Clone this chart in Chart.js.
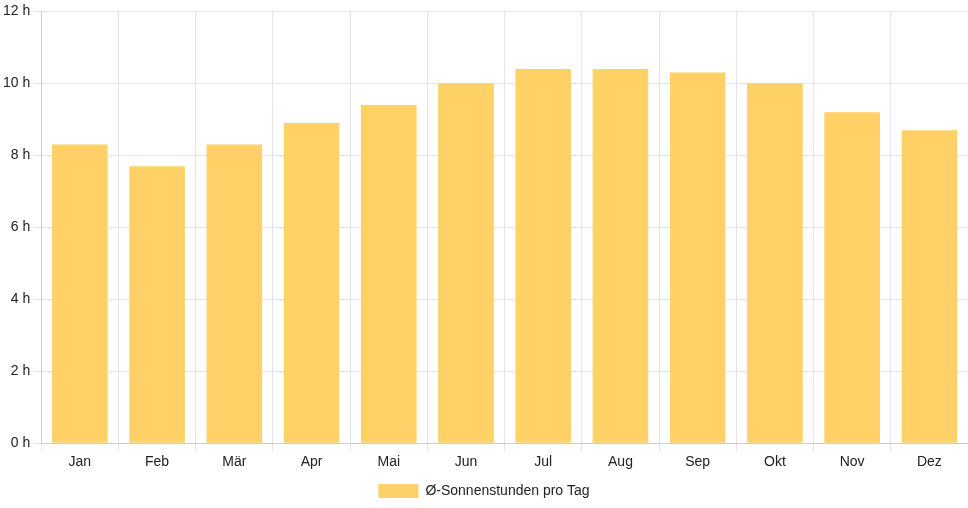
<!DOCTYPE html>
<html>
<head>
<meta charset="utf-8">
<script src="https://cdn.jsdelivr.net/npm/chart.js@4"></script>
<style>
  html, body { margin: 0; padding: 0; background: #fff; }
  #wrap { width: 968px; height: 508px; }
</style>
</head>
<body>
<div id="wrap"><canvas id="sunChart"></canvas></div>
<script>
// Monatsdaten
const months = ['Jan', 'Feb', 'Mär', 'Apr', 'Mai', 'Jun', 'Jul', 'Aug', 'Sep', 'Okt', 'Nov', 'Dez'];
const sunHours = [8.3, 7.7, 8.3, 8.9, 9.4, 10.0, 10.4, 10.4, 10.3, 10.0, 9.2, 8.7];
const seriesLabel = 'Ø-Sonnenstunden pro Tag';

Chart.defaults.font.family = '"Liberation Sans", Arial, sans-serif';
Chart.defaults.font.size = 14;
Chart.defaults.color = '#222';

new Chart(document.getElementById('sunChart'), {
    type: 'bar',
    data: {
        labels: months,
        datasets: [{
            label: seriesLabel,
            data: sunHours,
            backgroundColor: 'rgba(255, 209, 102, 1)',
            borderWidth: 0
        }]
    },
    options: {
        responsive: true,
        maintainAspectRatio: false,
        animation: false,
        plugins: {
            legend: {
                position: 'bottom',
                labels: { boxWidth: 40, boxHeight: 14 }
            },
            tooltip: { enabled: false }
        },
        scales: {
            y: {
                min: 0,
                max: 12,
                ticks: {
                    stepSize: 2,
                    callback: v => v + ' h'
                },
                grid: { color: '#e4e4e4' }
            },
            x: {
                grid: { color: '#e4e4e4' }
            }
        }
    }
});
</script>
</body>
</html>
